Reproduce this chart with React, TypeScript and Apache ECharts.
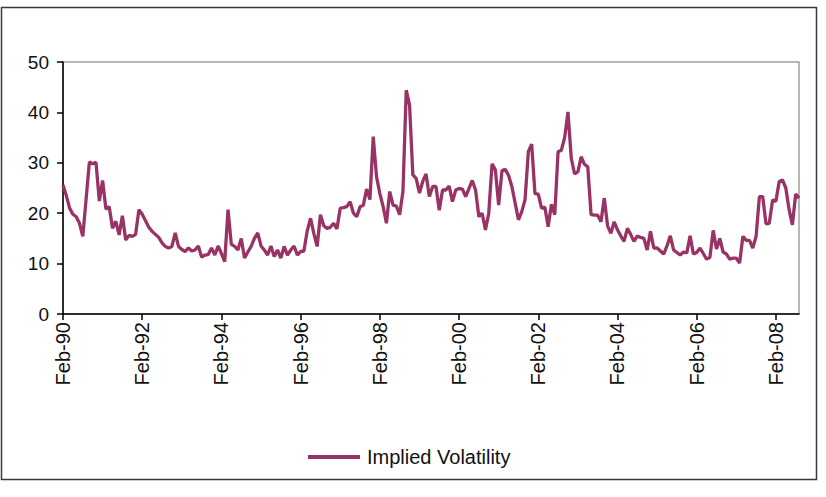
import React, { useEffect, useRef } from "react";
import * as echarts from "echarts";

const START_YEAR = 1990;
const START_MONTH = 1; // Feb (0-based)
const MONTH_NAMES = ["Jan", "Feb", "Mar", "Apr", "May", "Jun", "Jul", "Aug", "Sep", "Oct", "Nov", "Dec"];

const impliedVolatility: number[] = [
  25.6, 23.5, 21, 19.8, 19.3, 18, 15.4, 22.8, 30.2, 29.8, 30.1, 22.4,
  26.5, 20.8, 21.3, 17, 18.4, 15.7, 19.5, 14.7, 15.6, 15.4, 15.8, 20.7,
  19.8, 18.5, 17.2, 16.4, 15.8, 15.2, 14.1, 13.4, 13.1, 13.4, 16.1, 13.4,
  12.8, 12.4, 13.1, 12.5, 12.7, 13.5, 11.3, 11.7, 11.8, 13.1, 11.7, 13.5,
  12, 10.4, 20.7, 13.8, 13.4, 12.7, 15, 11.1, 12.3, 13.4, 15, 16.1,
  13.5, 12.7, 11.7, 13.5, 11.4, 12.7, 11.1, 13.4, 11.7, 12.7, 13.5, 11.7,
  12.4, 12.5, 16.5, 19.0, 16.0, 13.4, 19.7, 17.5, 17, 17.2, 18, 16.9,
  21, 21.1, 21.3, 22.3, 20, 19.3, 21.3, 21.6, 24.8, 22.7, 35.2, 27.2,
  23.9, 21.3, 18, 24.3, 21.6, 21.4, 19.7, 24.3, 44.4, 41.5, 27.6, 26.9,
  24, 26.3, 27.8, 23.3, 25.3, 25.3, 20.6, 24.6, 24.6, 25.4, 22.3, 24.6,
  24.9, 24.8, 23.3, 24.9, 26.5, 24.6, 19.3, 20, 16.7, 20, 29.8, 28.6,
  21.6, 28.4, 28.7, 27.5, 25.3, 22, 18.7, 20.3, 22.7, 32.2, 33.7, 23.9,
  23.8, 21, 21.2, 17.3, 21.8, 19.7, 32.2, 32.5, 35, 40.1, 30.9, 27.8,
  28.2, 31.2, 29.7, 29.2, 19.7, 19.6, 19.6, 18.3, 23, 17.5, 16, 18.3,
  16.7, 15.5, 14.4, 17, 15.8, 14.4, 15.5, 15.2, 15, 12.7, 16.4, 13.1,
  13.1, 12.5, 11.9, 13.5, 15.5, 12.7, 12.2, 11.7, 12.3, 12.1, 15.5, 11.9,
  12.2, 13.1, 12, 10.9, 11.2, 16.6, 12.9, 15, 12.3, 11.9, 10.9, 11.1,
  11.1, 10.1, 15.4, 14.6, 14.6, 13.1, 15.4, 23.3, 23.3, 17.9, 18, 22.6,
  22.4, 26.3, 26.6, 25, 20.7, 17.7, 23.8, 23,
];

const categories: string[] = impliedVolatility.map((_, i) => {
  const m = START_MONTH + i;
  const y = START_YEAR + Math.floor(m / 12);
  return `${MONTH_NAMES[m % 12]}-${String(y % 100).padStart(2, "0")}`;
});

const Y_MIN = 0;
const Y_MAX = 50;
const Y_INTERVAL = 10;
const LABEL_EVERY = 24;

const FONT = "'Liberation Sans', Arial, sans-serif";
const LINE_COLOR = "#993366";

export default function App() {
  const ref = useRef<HTMLDivElement>(null);

  useEffect(() => {
    document.body.style.margin = "0";
    if (!ref.current) return;
    const chart = echarts.init(ref.current, undefined, { renderer: "svg" });
    chart.setOption({
      animation: false,
      backgroundColor: "#ffffff",
      graphic: [
        {
          type: "rect",
          shape: { x: 1.5, y: 7.5, width: 815, height: 472 },
          style: { fill: "none", stroke: "#3a3a3a", lineWidth: 1.5 },
          silent: true,
        },
      ],
      grid: {
        left: 63,
        top: 62,
        width: 736,
        height: 252,
        show: true,
        borderColor: "#a0a0a0",
        borderWidth: 1.5,
        backgroundColor: "transparent",
      },
      legend: {
        left: 308,
        top: 447,
        padding: 0,
        itemWidth: 52,
        itemHeight: 4,
        itemGap: 10,
        icon: "rect",
        textStyle: { fontFamily: FONT, fontSize: 20, color: "#111", padding: [0, 0, 0, 2] },
        data: [{ name: "Implied Volatility", itemStyle: { color: LINE_COLOR } }],
      },
      xAxis: {
        type: "category",
        data: categories,
        boundaryGap: false,
        axisLine: { show: true, lineStyle: { color: "#000", width: 1.5 } },
        axisTick: {
          show: true,
          interval: LABEL_EVERY - 1,
          length: 6,
          lineStyle: { color: "#000", width: 1.5 },
        },
        axisLabel: {
          interval: LABEL_EVERY - 1,
          rotate: 90,
          margin: 8,
          fontFamily: FONT,
          fontSize: 20,
          color: "#111",
        },
        splitLine: { show: false },
      },
      yAxis: {
        type: "value",
        min: Y_MIN,
        max: Y_MAX,
        interval: Y_INTERVAL,
        axisLine: { show: true, lineStyle: { color: "#000", width: 1.5 } },
        axisTick: { show: true, length: 6, lineStyle: { color: "#000", width: 1.5 } },
        axisLabel: { margin: 14, fontFamily: FONT, fontSize: 19, color: "#111" },
        splitLine: { show: false },
      },
      series: [
        {
          name: "Implied Volatility",
          type: "line",
          data: impliedVolatility,
          symbol: "none",
          lineStyle: { color: LINE_COLOR, width: 3.3 },
          itemStyle: { color: LINE_COLOR },
        },
      ],
    });
    return () => chart.dispose();
  }, []);

  return <div ref={ref} style={{ width: 826, height: 497 }} />;
}
